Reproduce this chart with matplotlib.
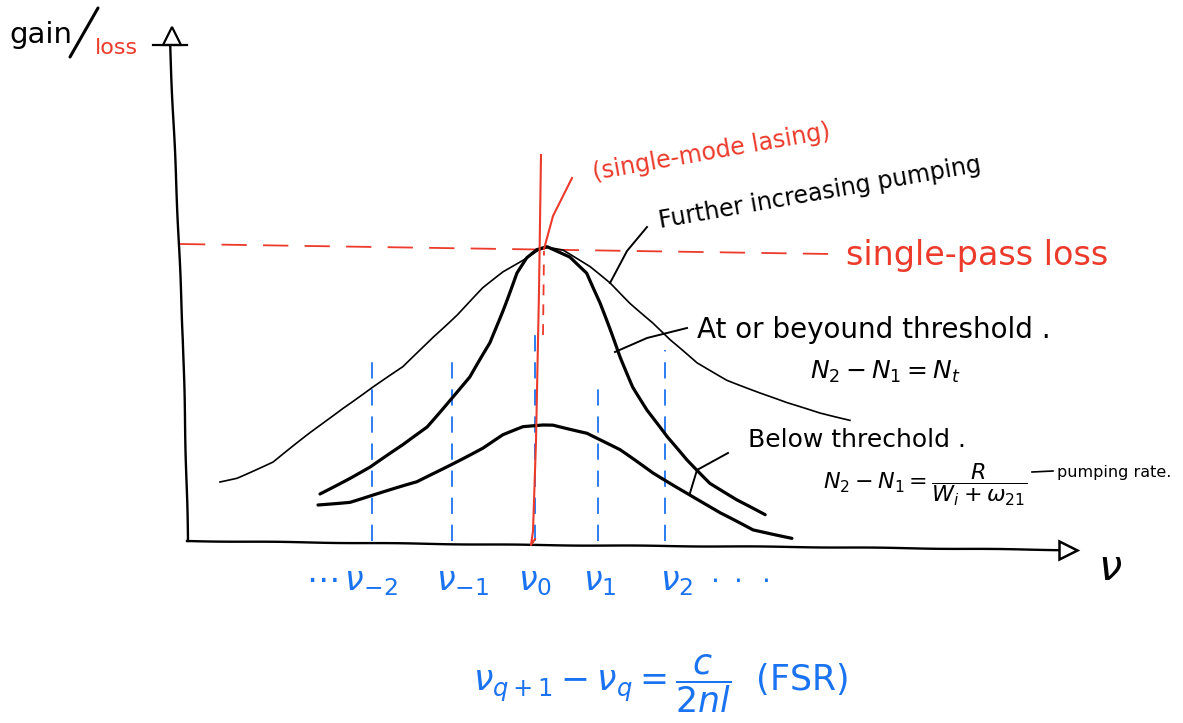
import matplotlib
matplotlib.use("Agg")
import matplotlib.pyplot as plt

# frequency (x) and gain (y) in arbitrary units, origin at the axis corner
further_x = [33, 50, 86, 123, 156, 186, 216, 246, 270, 296, 316, 336, 351, 361,
             376, 403, 423, 443, 466, 483, 510, 540, 573, 600, 633, 663]
further_g = [59, 63, 79, 108, 133, 154, 174, 204, 226, 253, 269, 281, 291, 294,
             291, 274, 258, 238, 218, 201, 178, 161, 148, 138, 128, 121]

threshold_x = [133, 163, 183, 216, 240, 263, 283, 303, 316, 330, 340, 350, 360,
               383, 400, 413, 423, 433, 446, 460, 480, 500, 523, 550, 578]
threshold_g = [47, 63, 74, 96, 114, 141, 164, 198, 231, 268, 283, 291, 294,
               284, 268, 238, 211, 184, 154, 131, 104, 81, 58, 41, 26]

below_x = [131, 163, 186, 230, 263, 296, 316, 336, 356, 366, 400, 433, 466,
           500, 533, 566, 605]
below_g = [36, 39, 46, 59, 76, 93, 106, 114, 116, 116, 108, 91, 68, 48, 28, 11, 3]

loss_x = [-7, 643]
loss_g = [297, 287]

# longitudinal cavity modes
mode_x = [185, 265, 348, 411, 478]
mode_top = [186, 186, 206, 161, 191]
mode_labels = [r"$\cdots\,\nu_{-2}$", r"$\nu_{-1}$", r"$\nu_0$", r"$\nu_1$", r"$\nu_2$"]
mode_label_x = [165, 275, 348, 413, 490]

# hand-drawn axes
yaxis_x = [1, -4, -10, -17]
yaxis_g = [0, 201, 341, 496]
xaxis_x = [0, 343, 613, 878]
xaxis_g = [0, -4, -6, -9]

RED = "#ec3a2b"
BLUE = "#1a73f0"


def wobbly(line, scale=0.35):
    # slight jitter so strokes look drawn by hand
    line.set_sketch_params(scale, 120, 1.0)


fig = plt.figure(figsize=(11.83, 7.23), dpi=100)
ax = fig.add_axes([0, 0, 1, 1])
ax.set_xlim(-187, 996)
ax.set_ylim(-182, 541)
ax.set_axis_off()

# axes with open arrow heads
wobbly(ax.plot(yaxis_x, yaxis_g, color="black", lw=1.7,
               solid_joinstyle="round")[0], 0.25)
ax.plot([-15], [505], marker="^", ms=13, mfc="white", mec="black", mew=1.6)
ax.plot([-34, 0], [496, 496], color="black", lw=1.6)
wobbly(ax.plot(xaxis_x, xaxis_g, color="black", lw=1.7,
               solid_joinstyle="round")[0], 0.25)
ax.plot([881], [-9], marker=">", ms=13, mfc="white", mec="black", mew=1.8)

# mode positions
for x, top in zip(mode_x, mode_top):
    ax.plot([x, x], [0, top], color=BLUE, lw=1.3, dashes=(9, 6))
for x, lab in zip(mode_label_x, mode_labels):
    ax.text(x, -40, lab, color=BLUE, fontsize=24, ha="center", va="center")
ax.text(553, -40, r"$\cdot\ \cdot\ \cdot$", color=BLUE, fontsize=20,
        ha="center", va="center")

# red dashed drop from gain peak to the lasing mode
ax.plot([356, 357], [206, 290], color=RED, lw=1.3, dashes=(6, 5))

# single-pass loss level
ax.plot(loss_x, loss_g, color=RED, lw=1.3, dashes=(14, 9))

# gain curves
wobbly(ax.plot(further_x, further_g, color="black", lw=1.2,
               solid_joinstyle="round")[0])
wobbly(ax.plot(threshold_x, threshold_g, color="black", lw=2.3,
               solid_joinstyle="round", solid_capstyle="round")[0])
wobbly(ax.plot(below_x, below_g, color="black", lw=2.3,
               solid_joinstyle="round", solid_capstyle="round")[0])

# lasing mode line and pointer
ax.plot([354, 352, 349, 346, 344, 348], [386, 250, 100, 10, -4, 2],
        color=RED, lw=1.5, solid_joinstyle="round")
ax.plot([357, 366, 385], [292, 325, 363], color=RED, lw=1.5)
ax.text(525, 389, "(single-mode lasing)", color=RED, fontsize=17,
        rotation=10, ha="center", va="center")

# annotation pointers
ax.plot([423, 440, 460], [258, 290, 314], color="black", lw=1.4)
ax.text(633, 348, "Further increasing pumping", fontsize=17, rotation=10,
        ha="center", va="center")

ax.plot([428, 460, 500], [189, 203, 213], color="black", lw=1.4)
ax.text(510, 211, "At or beyound threshold .", fontsize=20, ha="left", va="center")
ax.text(623, 169, r"$N_2 - N_1 = N_t$", fontsize=18, ha="left", va="center")

ax.plot([503, 510, 541], [48, 71, 88], color="black", lw=1.4)
ax.text(561, 101, "Below threchold .", fontsize=18, ha="left", va="center")
ax.text(636, 56, r"$N_2 - N_1 = \dfrac{R}{W_i + \omega_{21}}$", fontsize=16,
        ha="left", va="center")
ax.plot([845, 866], [69, 70], color="black", lw=1.2)
ax.text(870, 69, "pumping rate.", fontsize=11.5, ha="left", va="center")

ax.text(790, 286, "single-pass loss", color=RED, fontsize=24, ha="center",
        va="center")

# axis titles
ax.text(-178, 506, "gain", fontsize=21, ha="left", va="center")
ax.plot([-117, -89], [484, 533], color="black", lw=2.2, solid_capstyle="round")
ax.text(-92, 493, "loss", color=RED, fontsize=16, ha="left", va="center")
ax.text(923, -27, r"$\nu$", fontsize=30, ha="center", va="center")

# free spectral range
ax.text(473, -143, r"$\nu_{q+1} - \nu_q = \dfrac{c}{2nl}$  (FSR)", color=BLUE,
        fontsize=25, ha="center", va="center")

fig.savefig("out.png", dpi=100)
